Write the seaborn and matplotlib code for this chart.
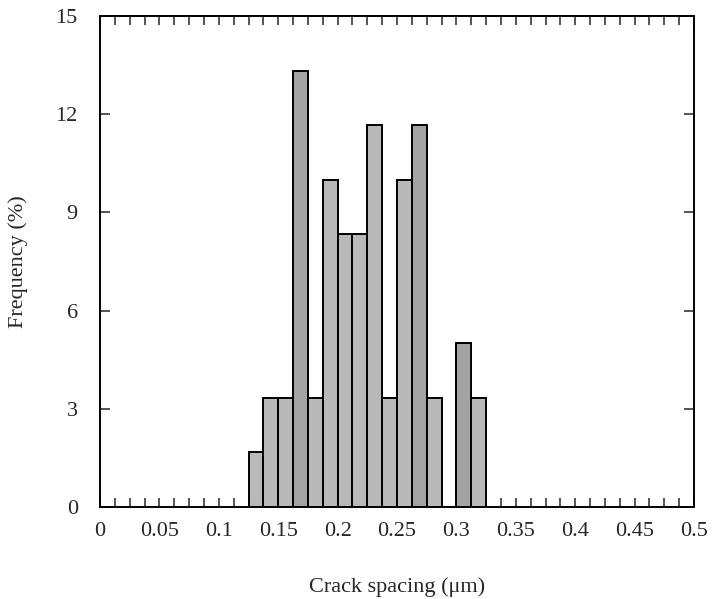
import numpy as np
import matplotlib
matplotlib.use("Agg")
import matplotlib.pyplot as plt
import seaborn as sns
from matplotlib.ticker import MultipleLocator

# Data
bin_edges = [0.125, 0.1375, 0.15, 0.1625, 0.175, 0.1875, 0.2, 0.2125, 0.225,
             0.2375, 0.25, 0.2625, 0.275, 0.2875, 0.3, 0.3125, 0.325]
frequency = [1.67, 3.33, 3.33, 13.33, 3.33, 10.0, 8.33, 8.33, 11.67,
             3.33, 10.0, 11.67, 3.33, 0.0, 5.0, 3.33]
dark_bins = [3, 11, 14]
x_ticks = [0, 0.05, 0.1, 0.15, 0.2, 0.25, 0.3, 0.35, 0.4, 0.45, 0.5]
x_tick_labels = ["0", "0.05", "0.1", "0.15", "0.2", "0.25", "0.3", "0.35", "0.4", "0.45", "0.5"]
y_ticks = [0, 3, 6, 9, 12, 15]

sns.set_style("ticks")
plt.rcParams['font.family'] = ['Liberation Serif', 'DejaVu Serif']

centers = [(a + b) / 2 for a, b in zip(bin_edges[:-1], bin_edges[1:])]

fig = plt.figure(figsize=(7.14, 5.99), dpi=100)
ax = fig.add_axes([100/714, 1 - 507/599, 594/714, 491/599])

sns.histplot(x=centers, weights=frequency, bins=bin_edges, ax=ax,
             color="#b9b9b9", edgecolor="black", linewidth=1.4, alpha=1.0)

for i, p in enumerate(ax.patches):
    if i in dark_bins:
        p.set_facecolor("#a3a3a3")

ax.set_xlim(0, 0.5)
ax.set_ylim(0, 15)
ax.set_xticks(x_ticks)
ax.set_xticklabels(x_tick_labels)
ax.set_yticks(y_ticks)
ax.xaxis.set_minor_locator(MultipleLocator(0.0125))

ax.tick_params(axis='x', which='major', direction='in', top=True, bottom=True,
               length=6.5, width=1.1, labelsize=16, pad=11)
ax.tick_params(axis='x', which='minor', direction='in', top=True, bottom=True,
               length=6.5, width=1.1)
ax.tick_params(axis='y', which='major', direction='in', left=True, right=True,
               length=7, width=1.1, labelsize=16, pad=16)

for s in ax.spines.values():
    s.set_visible(True)
    s.set_linewidth(1.4)
    s.set_color("black")

ax.set_xlabel("Crack spacing (\u03bcm)", fontsize=16, labelpad=26)
ax.set_ylabel("Frequency (%)", fontsize=16, labelpad=20)

fig.savefig("out.png", dpi=100)
